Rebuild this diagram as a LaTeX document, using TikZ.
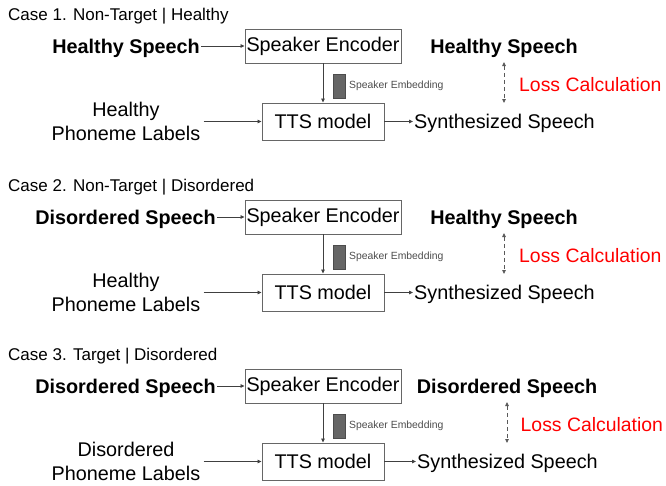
\documentclass[tikz,border=0pt]{standalone}
\usepackage{fontspec}
\setmainfont{Liberation Sans}
\usetikzlibrary{arrows.meta}

\tikzset{
  box/.style={draw=black!60, line width=0.9pt},
  flow/.style={draw=black!75, line width=0.8pt, -{Triangle[length=4pt,width=3.5pt]}},
  lossarrow/.style={draw=black!65, line width=0.8pt, dash pattern=on 4pt off 3pt,
    {Triangle[length=4pt,width=3.5pt]}-{Triangle[length=4pt,width=3.5pt]}},
  plain/.style={font=\fontsize{19.8}{24}\selectfont, inner sep=1pt},
  heavy/.style={font=\fontsize{19.8}{24}\selectfont\bfseries, inner sep=1pt},
  losstext/.style={font=\fontsize{19.4}{24}\selectfont, text=red, inner sep=0pt, anchor=west},
  casetitle/.style={font=\fontsize{17}{20}\selectfont, inner sep=0pt, anchor=west},
  embbar/.style={draw=black!70, fill=black!60, minimum width=12pt, minimum height=24pt, inner sep=0pt},
  emblabel/.style={font=\fontsize{10.4}{12}\selectfont, text=black!70, inner sep=0pt, anchor=west},
}

% #1 id, #2 vertical offset, #3 title, #4 input speech, #5 right edge of input,
% #6 first line of phoneme labels, #7 reference speech, #8 shift of the right part
\newcommand\ttspanel[8]{%
\begin{scope}[shift={(0,#2)}]
  \node[casetitle] (title#1) at (8,16) {#3};
  \node[heavy, anchor=east] (in#1) at (#5,48) {#4};
  \node[box, plain, minimum width=156pt, minimum height=34pt] (enc#1) at (323,46) {Speaker Encoder};
  \node[embbar] (emb#1) at (339,86) {};
  \node[emblabel] (embl#1) at (349,86) {Speaker Embedding};
  \node[box, plain, minimum width=122pt, minimum height=37pt] (tts#1) at (323,121.5) {TTS model};
  \node[plain, align=center, inner sep=3pt] (ph#1) at (126,121.5) {#6\\Phoneme Labels};
  \node[plain, anchor=west] (syn#1) at ({413+#8},123) {Synthesized Speech};
  \node[heavy] (tgt#1) at ({504+#8},48) {#7};
  \node[losstext] (loss#1) at ({519+#8/2},85) {Loss Calculation};
  \coordinate (lt#1) at ({504+#8},62);
  \coordinate (lb#1) at ({504+#8},103);
  \draw[flow] (in#1.east |- enc#1.west) -- (enc#1.west);
  \draw[flow] (enc#1) -- (tts#1);
  \draw[flow] (ph#1.east |- tts#1.west) -- (tts#1.west);
  \draw[flow] (tts#1.east) -- (syn#1.west |- tts#1.east);
  \draw[lossarrow] (lt#1) -- (lb#1);
\end{scope}}

\begin{document}
\begin{tikzpicture}[x=1pt, y=-1pt]
  \useasboundingbox (0,0) rectangle (666,485);
  \ttspanel{a}{0}{Case 1. Non-Target | Healthy}{Healthy Speech}{201}{Healthy}{Healthy Speech}{0}
  \ttspanel{b}{171}{Case 2. Non-Target | Disordered}{Disordered Speech}{217}{Healthy}{Healthy Speech}{0}
  \ttspanel{c}{340}{Case 3. Target | Disordered}{Disordered Speech}{217}{Disordered}{Disordered Speech}{3}
\end{tikzpicture}
\end{document}
